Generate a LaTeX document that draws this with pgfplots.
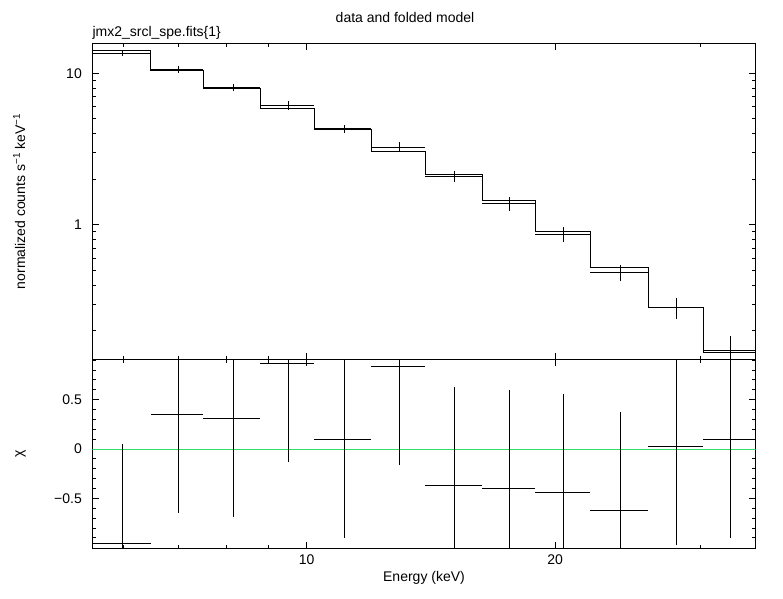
\documentclass[border=0pt]{standalone}
\usepackage{pgfplots}
\pgfplotsset{compat=1.18}
\usepackage{pgfplotstable}
\usepackage{fontspec}
\setmainfont{Liberation Sans}
\definecolor{zerogreen}{rgb}{0.2,0.87,0.4}

% bin centre, half width, data, error, folded model, residual (chi), unit error
\pgfplotstableread{
x dx y ey model chi one
5.985 0.485 13.6 0.50 14.08 -0.952 1
6.985 0.515 10.64 0.566 10.44 0.351 1
8.145 0.645 8.08 0.45 7.94 0.311 1
9.50 0.71 6.16 0.39 5.82 0.868 1
11.095 0.885 4.31 0.26 4.28 0.098 1
12.95 0.97 3.26 0.248 3.05 0.838 1
15.12 1.20 2.087 0.168 2.149 -0.368 1
17.62 1.30 1.384 0.141 1.440 -0.398 1
20.485 1.565 0.866 0.0987 0.909 -0.439 1
23.99 1.94 0.485 0.0612 0.523 -0.621 1
28.075 2.145 0.285 0.0455 0.284 0.027 1
32.60 2.38 0.1477 0.036 0.1442 0.098 1
}\spec

% folded model as a step histogram (bin lower edges)
\pgfplotstableread{
e model
5.50 14.08
6.47 10.44
7.50 7.94
8.79 5.82
10.21 4.28
11.98 3.05
13.92 2.149
16.32 1.440
18.92 0.909
22.05 0.523
25.93 0.284
30.22 0.1442
34.98 0.1442
}\model

\begin{document}
\begin{tikzpicture}[x=1bp,y=1bp,font=\fontsize{14bp}{16bp}\selectfont]

% upper panel: data and folded model
\begin{axis}[
  at={(92.3bp,239.7bp)}, anchor=south west,
  scale only axis,
  width=663.4bp, height=316bp,
  xmode=log, ymode=log,
  xmin=5.50, xmax=34.98,
  ymin=0.1297, ymax=15.78,
  xtick={10,20}, xticklabels={,},
  minor xtick={6,7,8,9,30},
  ytick={1,10}, yticklabels={1,10},
  minor ytick={0.2,0.3,0.4,0.5,0.6,0.7,0.8,0.9,2,3,4,5,6,7,8,9},
  axis line style={black, line width=0.9bp},
  every tick/.style={black, line width=0.9bp},
  major tick length=6.7bp,
  minor tick length=3.5bp,
  tick align=inside,
  yticklabel style={inner sep=0pt, xshift=-10.3bp},
]
\addplot[black, line width=0.9bp, const plot] table[x=e, y=model] {\model};
\addplot[draw=none, mark=none,
  error bars/.cd, x dir=both, x explicit, y dir=both, y explicit,
  error mark=none, error bar style={draw=black, line width=0.9bp}]
  table[x=x, y=y, x error=dx, y error=ey] {\spec};
\end{axis}

% lower panel: residuals
\begin{axis}[
  at={(92.3bp,50.7bp)}, anchor=south west,
  scale only axis,
  width=663.4bp, height=189bp,
  xmode=log,
  xmin=5.50, xmax=34.98,
  ymin=-1.006, ymax=0.909,
  xtick={10,20}, xticklabels={10,20},
  minor xtick={6,7,8,9,30},
  ytick={-0.5,0,0.5}, yticklabels={−0.5,0,0.5},
  minor ytick={-0.9,-0.8,-0.7,-0.6,-0.4,-0.3,-0.2,-0.1,0.1,0.2,0.3,0.4,0.6,0.7,0.8,0.9},
  axis line style={black, line width=0.9bp},
  every tick/.style={black, line width=0.9bp},
  major tick length=6.7bp,
  minor tick length=3.5bp,
  tick align=inside,
  yticklabel style={inner sep=0pt, xshift=-10.3bp},
  xticklabel style={inner sep=0pt, yshift=-6.7bp},
]
\addplot[zerogreen, line width=0.9bp] coordinates {(5.50,0) (34.98,0)};
\addplot[draw=none, mark=none,
  error bars/.cd, x dir=both, x explicit, y dir=both, y explicit,
  error mark=none, error bar style={draw=black, line width=0.9bp}]
  table[x=x, y=chi, x error=dx, y error=one] {\spec};
\end{axis}

% texts
\node[anchor=base] at (405,576.5) {data and folded model};
\node[anchor=base west, inner sep=0pt] at (92.3,562.5) {jmx2\_srcl\_spe.fits\{1\}};
\node[anchor=base] at (424,17) {Energy (keV)};
\node[anchor=base, rotate=90, inner sep=0pt] at (25,397.7) {normalized counts s\textsuperscript{−1} keV\textsuperscript{−1}};
\node[rotate=90, inner sep=0pt] at (20.5,145.5) {χ};

\pgfresetboundingbox
\path[use as bounding box] (0,0) rectangle (783,599);
\end{tikzpicture}
\end{document}
